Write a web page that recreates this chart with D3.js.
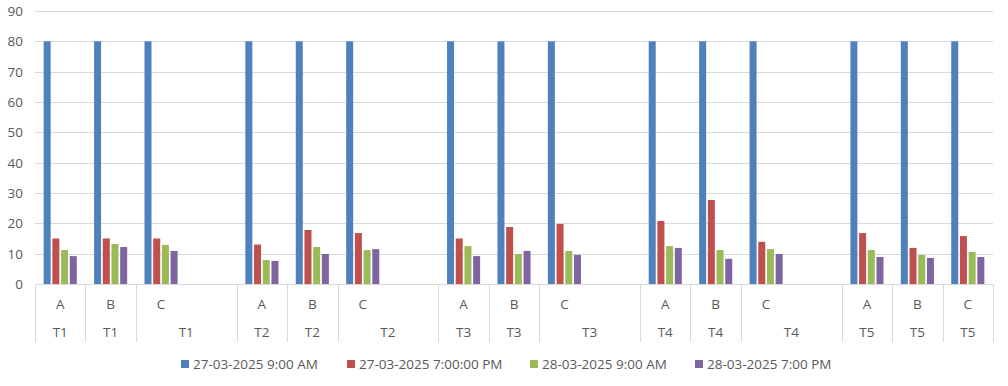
<!DOCTYPE html>
<html>
<head>
<meta charset="utf-8">
<script src="https://cdn.jsdelivr.net/npm/d3@7"></script>
<style>
  body { margin: 0; background: #fff; }
  text { font-family: "Open Sans", "Noto Sans", sans-serif; fill: #595959; }
</style>
</head>
<body>
<svg id="chart" width="1008" height="386"></svg>
<script>
// categories
var groups = ["T1", "T2", "T3", "T4", "T5"];
var subs = ["A", "B", "C"];
var seriesNames = ["27-03-2025 9:00 AM", "27-03-2025 7:00:00 PM", "28-03-2025 9:00 AM", "28-03-2025 7:00 PM"];
var seriesColors = ["#4f81bd", "#c0504d", "#9bbb59", "#8064a2"];
var yTicks = [0, 10, 20, 30, 40, 50, 60, 70, 80, 90];

// values in order T1A, T1B, T1C, T2A ... T5C
var s1 = [80, 80, 80, 80, 80, 80, 80, 80, 80, 80, 80, 80, 80, 80, 80];
var s2 = [15, 15, 15, 13, 17.8, 16.8, 15, 18.8, 19.8, 20.8, 27.7, 13.9, 16.8, 11.9, 15.8];
var s3 = [11.2, 13.2, 12.9, 7.9, 12.2, 11.2, 12.5, 9.9, 10.9, 12.5, 11.2, 11.5, 11.2, 9.6, 10.6];
var s4 = [9.2, 12.2, 10.9, 7.6, 9.9, 11.5, 9.2, 10.9, 9.6, 11.9, 8.3, 9.9, 8.9, 8.6, 8.9];
var series = [s1, s2, s3, s4];

// slots: each group gets A, B, C plus one empty slot (except the last group)
var slots = [];
groups.forEach(function (g, gi) {
  subs.forEach(function (s) { slots.push({ key: g + s, group: g, sub: s }); });
  if (gi < groups.length - 1) slots.push({ key: g + "_gap", group: g, sub: "" });
});

var data = [];
var k = 0;
slots.forEach(function (sl) {
  if (sl.sub !== "") {
    data.push({ key: sl.key, values: series.map(function (s) { return s[k]; }) });
    k++;
  }
});

var svg = d3.select("#chart");
var plotL = 35, plotR = 993, plotT = 11, plotB = 284;
var fs = 13.5;

var x = d3.scaleBand().domain(slots.map(function (d) { return d.key; })).range([plotL, plotR]).padding(0);
var y = d3.scaleLinear().domain([0, 90]).range([plotB, plotT]);
var barW = 7, barStep = 8.7;

// gridlines
svg.append("g").selectAll("line").data(yTicks).enter().append("line")
  .attr("x1", plotL).attr("x2", plotR)
  .attr("y1", function (d) { return Math.round(y(d)) + 0.5; }).attr("y2", function (d) { return Math.round(y(d)) + 0.5; })
  .attr("stroke", "#d9d9d9").attr("stroke-width", 1);

// y tick labels
svg.append("g").selectAll("text").data(yTicks).enter().append("text")
  .attr("x", 23).attr("y", function (d) { return y(d) + 5; })
  .attr("text-anchor", "end").attr("font-size", fs)
  .text(function (d) { return d; });

// bars
var bg = svg.append("g").selectAll("g").data(data).enter().append("g")
  .attr("transform", function (d) { return "translate(" + (x(d.key) + x.bandwidth() / 2 - (barStep * 3 + barW) / 2) + ",0)"; });
bg.selectAll("rect").data(function (d) { return d.values; }).enter().append("rect")
  .attr("x", function (v, i) { return i * barStep; })
  .attr("y", function (v) { return y(v); })
  .attr("width", barW)
  .attr("height", function (v) { return plotB - y(v); })
  .attr("fill", function (v, i) { return seriesColors[i]; });

// category axis cells
var axisG = svg.append("g");
var divs = slots.filter(function (d) { return d.sub !== ""; }).map(function (d) { return x(d.key); });
divs.push(plotR);
axisG.selectAll("line.div").data(divs).enter().append("line")
  .attr("x1", function (d) { return Math.round(d) + 0.5; }).attr("x2", function (d) { return Math.round(d) + 0.5; })
  .attr("y1", plotB).attr("y2", 342)
  .attr("stroke", "#d9d9d9");
axisG.append("line").attr("x1", plotL).attr("x2", plotR).attr("y1", plotB + 0.5).attr("y2", plotB + 0.5)
  .attr("stroke", "#d9d9d9");

var labeled = slots.filter(function (d) { return d.sub !== ""; });
axisG.selectAll("text.sub").data(labeled).enter().append("text")
  .attr("x", function (d) { return x(d.key) + x.bandwidth() / 2; })
  .attr("y", 309).attr("text-anchor", "middle").attr("font-size", fs)
  .text(function (d) { return d.sub; });
axisG.selectAll("text.grp").data(labeled).enter().append("text")
  .attr("x", function (d) {
    var span = (d.sub === "C" && d.group !== groups[groups.length - 1]) ? 2 : 1;
    return x(d.key) + x.bandwidth() * span / 2;
  })
  .attr("y", 337).attr("text-anchor", "middle").attr("font-size", fs)
  .text(function (d) { return d.group; });

// legend
var legendX = [181, 347, 530, 695];
var lg = svg.append("g").selectAll("g").data(seriesNames).enter().append("g")
  .attr("transform", function (d, i) { return "translate(" + legendX[i] + ",360)"; });
lg.append("rect").attr("width", 8).attr("height", 8).attr("y", 0)
  .attr("fill", function (d, i) { return seriesColors[i]; });
lg.append("text").attr("x", 12).attr("y", 9).attr("font-size", fs)
  .text(function (d) { return d; });
</script>
</body>
</html>
